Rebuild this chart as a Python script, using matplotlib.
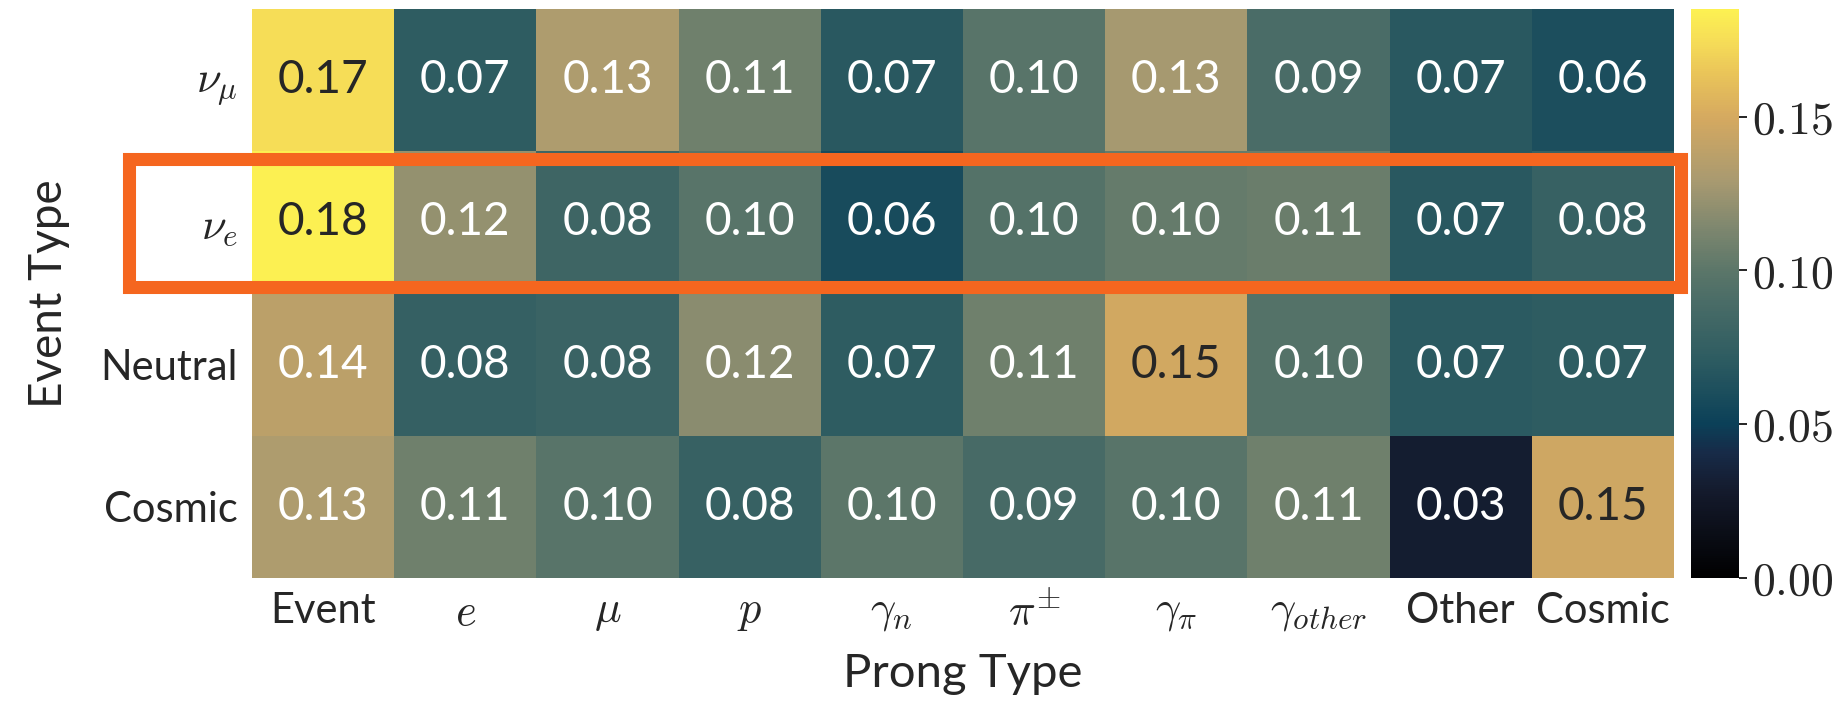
import numpy as np
import matplotlib
matplotlib.use("Agg")
import matplotlib.pyplot as plt
import matplotlib.patches as patches
from matplotlib.colors import LinearSegmentedColormap

plt.rcParams['font.family'] = ['Lato', 'DejaVu Sans']
plt.rcParams['mathtext.fontset'] = 'cm'

# datos
event_types = [r'$\nu_\mu$', r'$\nu_e$', 'Neutral', 'Cosmic']
prong_types = ['Event', r'$e$', r'$\mu$', r'$p$', r'$\gamma_n$', r'$\pi^{\pm}$',
               r'$\gamma_\pi$', r'$\gamma_{other}$', 'Other', 'Cosmic']
nu_mu   = [0.1745, 0.072, 0.132, 0.108, 0.068, 0.098, 0.128, 0.090, 0.068, 0.060]
nu_e    = [0.184, 0.122, 0.082, 0.098, 0.058, 0.096, 0.104, 0.106, 0.068, 0.078]
neutral = [0.138, 0.076, 0.080, 0.118, 0.072, 0.108, 0.148, 0.096, 0.070, 0.072]
cosmic  = [0.132, 0.108, 0.098, 0.078, 0.100, 0.088, 0.098, 0.108, 0.030, 0.146]
valores = np.array([nu_mu, nu_e, neutral, cosmic])

vmax = 0.185
# mapa de color aproximado (negro -> azul -> gris verdoso -> ocre -> amarillo)
nodos = [(0.0, '#000000'), (0.15, '#141a2c'), (0.22, '#172b48'), (0.27, '#0b4058'),
         (0.38, '#2c5b61'), (0.49, '#4b6d67'), (0.54, '#5b7669'), (0.62, '#80886f'),
         (0.70, '#a99a70'), (0.81, '#d5a960'), (0.89, '#eac559'), (0.94, '#f5db58'),
         (1.0, '#fdf152')]
cmap = LinearSegmentedColormap.from_list('prong', nodos)

fig = plt.figure(figsize=(18.39, 7.12), dpi=100)
ax = fig.add_axes([0.1370, 0.1882, 0.7733, 0.7992])
cax = fig.add_axes([0.9195, 0.1882, 0.0261, 0.7992])

nfil, ncol = valores.shape
im = ax.pcolormesh(np.arange(ncol + 1), np.arange(nfil + 1), valores,
                   cmap=cmap, vmin=0, vmax=vmax)
ax.set_xlim(0, ncol)
ax.set_ylim(nfil, 0)

for i in range(nfil):
    for j in range(ncol):
        v = valores[i, j]
        color = '#262626' if v >= 0.145 else 'white'
        ax.text(j + 0.5, i + 0.5, f'{v:.2f}', ha='center', va='center',
                fontsize=33, color=color)

ax.set_xticks(np.arange(ncol) + 0.5)
ax.set_xticklabels(prong_types, fontsize=30, color='#262626')
ax.set_yticks(np.arange(nfil) + 0.5)
ax.set_yticklabels(event_types, fontsize=30, color='#262626')
for t in ax.get_xticklabels() + ax.get_yticklabels():
    if t.get_text().startswith('$'):
        t.set_fontsize(32)
ax.tick_params(length=0, pad=10)
for s in ax.spines.values():
    s.set_visible(False)
ax.set_xlabel('Prong Type', fontsize=34, labelpad=14, color='#262626')
ax.set_ylabel('Event Type', fontsize=33, labelpad=22, color='#262626')

cb = fig.colorbar(im, cax=cax)
cb.set_ticks([0.0, 0.05, 0.10, 0.15])
cb.set_ticklabels([r'$0.00$', r'$0.05$', r'$0.10$', r'$0.15$'])
cb.ax.tick_params(labelsize=33, length=6, width=1.2, labelcolor='#262626')
cb.outline.set_visible(False)

# recuadro naranja alrededor de nu_e
rect = patches.Rectangle((-0.868, 1.054), 10.918, 0.897, linewidth=9.4,
                         edgecolor='#f5661f', facecolor='none',
                         clip_on=False, transform=ax.transData)
ax.add_patch(rect)

fig.savefig('out.png', dpi=100)
